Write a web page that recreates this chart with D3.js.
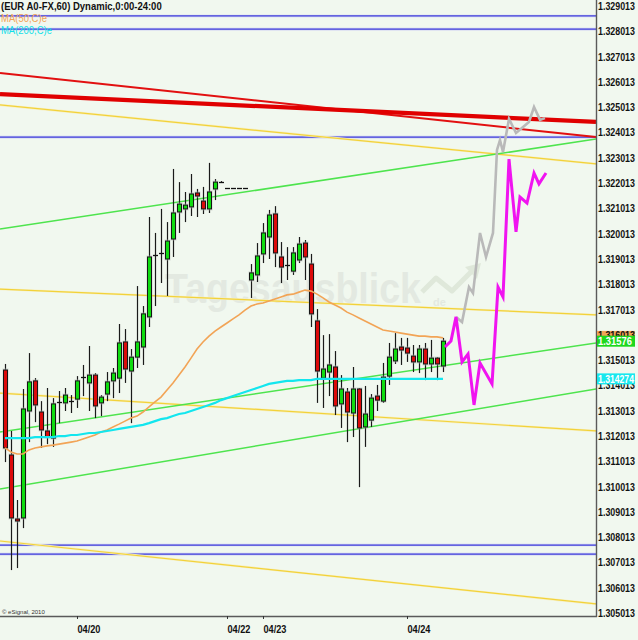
<!DOCTYPE html>
<html><head><meta charset="utf-8">
<script src="https://cdn.jsdelivr.net/npm/d3@7"></script>
<style>html,body{margin:0;padding:0;background:#f1f8ef;} svg{display:block}</style>
</head><body>
<svg id="c" width="638" height="640"></svg>
<script>
// ---------- DATA ----------
const opens = [1.31462,1.31126,1.30873,1.30877,1.31300,1.31419,1.31296,1.31221,1.31193,1.31336,
1.31332,1.31339,1.31347,1.31434,1.31411,1.31442,1.31332,1.31367,1.31419,1.31430,
1.31573,1.31458,1.31513,1.31553,1.31672,1.31917,1.31925,1.31901,1.31980,1.32087,
1.32099,1.32107,1.32162,1.32130,1.32099,1.32178,1.32205,1.32182,1.32182,1.32182,
1.32182,1.31818,1.31838,1.31921,1.31988,1.32079,1.31909,1.31877,1.31853,1.31897,
1.31964,1.31881,1.31656,1.31430,1.31454,1.31474,1.31328,1.31375,1.31292,1.31387,
1.31237,1.31264,1.31359,1.31339,1.31438,1.31498,1.31553,1.31549,1.31517,1.31494,
1.31545,1.31486,1.31509,1.31478];
const highs = [1.31486,1.31221,1.30948,1.31387,1.31529,1.31430,1.31339,1.31391,1.31351,1.31379,
1.31391,1.31363,1.31438,1.31482,1.31557,1.31450,1.31363,1.31454,1.31470,1.31644,
1.31624,1.31545,1.31794,1.31715,1.32067,1.32004,1.32099,1.32047,1.32257,1.32205,
1.32166,1.32237,1.32178,1.32186,1.32281,1.32217,1.32209,1.32182,1.32182,1.32182,
1.32182,1.31881,1.31964,1.32043,1.32095,1.32110,1.31968,1.31948,1.31948,1.31988,
1.31976,1.31921,1.31703,1.31600,1.31604,1.31537,1.31442,1.31391,1.31474,1.31391,
1.31399,1.31367,1.31403,1.31490,1.31569,1.31608,1.31589,1.31589,1.31561,1.31561,
1.31569,1.31581,1.31513,1.31589];
const lows = [1.31098,1.30671,1.30679,1.30837,1.31177,1.31256,1.31154,1.31169,1.31158,1.31252,
1.31300,1.31292,1.31312,1.31359,1.31300,1.31272,1.31280,1.31339,1.31351,1.31371,
1.31411,1.31252,1.31470,1.31482,1.31632,1.31715,1.31806,1.31755,1.31909,1.32004,
1.32047,1.32071,1.32067,1.32079,1.32083,1.32134,1.32202,1.32182,1.32182,1.32182,
1.32182,1.31747,1.31810,1.31885,1.31901,1.31869,1.31806,1.31818,1.31838,1.31885,
1.31818,1.31632,1.31332,1.31312,1.31359,1.31284,1.31233,1.31177,1.31197,1.30999,
1.31158,1.31237,1.31300,1.31332,1.31403,1.31486,1.31482,1.31494,1.31454,1.31450,
1.31422,1.31454,1.31422,1.31454];
const closes = [1.31154,1.30877,1.30865,1.31308,1.31415,1.31324,1.31225,1.31197,1.31328,1.31336,
1.31363,1.31339,1.31419,1.31434,1.31442,1.31320,1.31355,1.31415,1.31450,1.31569,
1.31466,1.31513,1.31573,1.31684,1.31909,1.31917,1.31925,1.31972,1.32083,1.32118,
1.32114,1.32158,1.32150,1.32099,1.32166,1.32205,1.32205,1.32182,1.32182,1.32182,
1.32182,1.31846,1.31913,1.32004,1.32075,1.31925,1.31869,1.31877,1.31925,1.31960,
1.31909,1.31684,1.31458,1.31466,1.31482,1.31320,1.31387,1.31296,1.31387,1.31233,
1.31288,1.31351,1.31343,1.31434,1.31513,1.31545,1.31541,1.31529,1.31494,1.31545,
1.31486,1.31509,1.31486,1.31576];
const ma50 = [1.31154,1.31138,1.31130,1.31130,1.31146,1.31154,1.31158,1.31162,1.31165,1.31169,
1.31173,1.31177,1.31181,1.31189,1.31197,1.31205,1.31217,1.31225,1.31237,1.31248,
1.31260,1.31272,1.31280,1.31296,1.31316,1.31336,1.31355,1.31383,1.31411,1.31442,
1.31474,1.31509,1.31545,1.31573,1.31596,1.31616,1.31632,1.31648,1.31664,1.31680,
1.31699,1.31715,1.31723,1.31727,1.31735,1.31743,1.31751,1.31759,1.31762,1.31770,
1.31778,1.31774,1.31762,1.31747,1.31731,1.31719,1.31707,1.31691,1.31680,1.31668,
1.31656,1.31644,1.31632,1.31620,1.31616,1.31612,1.31608,1.31604,1.31600,1.31596,
1.31596,1.31593,1.31593,1.31589];
const ma200 = [1.31193,1.31193,1.31193,1.31193,1.31193,1.31197,1.31197,1.31197,1.31197,1.31201,
1.31201,1.31205,1.31205,1.31209,1.31213,1.31213,1.31217,1.31221,1.31225,1.31229,
1.31233,1.31237,1.31241,1.31245,1.31252,1.31260,1.31268,1.31272,1.31280,1.31288,
1.31292,1.31300,1.31308,1.31316,1.31324,1.31332,1.31343,1.31351,1.31359,1.31367,
1.31375,1.31383,1.31391,1.31399,1.31407,1.31411,1.31415,1.31419,1.31419,1.31422,
1.31422,1.31422,1.31427,1.31427,1.31427,1.31427,1.31427,1.31427,1.31427,1.31427,
1.31427,1.31427,1.31427,1.31427,1.31427,1.31427,1.31427,1.31427,1.31427,1.31427,
1.31427,1.31427,1.31427,1.31427];

// forecast paths (bar index, price)
const magentaIdx   = [73.33,74.33,75.17,76.17,77.17,78.17,79.17,81.17,82.17,83.0,84.0,85.17,85.83,87.0,88.17,89.0,90.17];
const magentaPrice = [1.31553,1.31577,1.31672,1.31494,1.31525,1.31324,1.31490,1.31407,1.31790,1.31751,1.32296,1.32008,1.32146,1.32122,1.32241,1.32198,1.32241];
const grayIdx   = [75.17,76.17,77.33,78.0,79.17,80.17,81.33,82.0,82.5,83.0,84.0,85.17,87.33,88.17,89.17,90.0];
const grayPrice = [1.31672,1.31652,1.31790,1.31766,1.32004,1.31909,1.32004,1.32332,1.32371,1.32324,1.32455,1.32399,1.32443,1.32502,1.32451,1.32458];

// trend lines: price at left edge, price at right edge
const redThick = [1.32553, 1.32443];
const redThin  = [1.32636, 1.32383];
const greenLines  = [[1.32020,1.32375],[1.31217,1.31569],[1.30992,1.31387]];
const yellowLines = [[1.32510,1.32277],[1.31782,1.31680],[1.31371,1.31221],[1.30786,1.30537]];
const blueLevels  = [1.32862,1.32810,1.32383,1.30770,1.30734];

const priceTickValues = [1.329013,1.328013,1.327013,1.326013,1.325013,1.324013,1.323013,1.322013,1.321013,1.320013,1.319013,1.318013,1.317013,1.316013,1.315013,1.314013,1.313013,1.312013,1.311013,1.310013,1.309013,1.308013,1.307013,1.306013,1.305013];
const priceTickLabels = ["1.329013","1.328013","1.327013","1.326013","1.325013","1.324013","1.323013","1.322013","1.321013","1.320013","1.319013","1.318013","1.317013","1.316013","1.315013","1.314013","1.313013","1.312013","1.311013","1.310013","1.309013","1.308013","1.307013","1.306013","1.305013"];
const dateTickIndex  = [12,37,43,67];
const dateTickLabels = ["04/20","04/22","04/23","04/24"];
const lastPriceLabel = "1.31576";
const ma200Label = "1.314274";

// ---------- LAYOUT ----------
const W = 638, H = 640, PR = 596, PB = 616;
const svg = d3.select("#c");
const x = d3.scaleLinear().domain([-0.8333, 98.5]).range([0, PR]);
const y = d3.scaleLinear().domain([1.305013, 1.329013]).range([613, 6]);
const FONT = "'Liberation Sans',Arial,sans-serif";

// squeeze a text horizontally to a target width (like a condensed font)
function fit(node, target) {
  const t = d3.select(node);
  const len = node.getComputedTextLength();
  const s = Math.min(1, target / len);
  const tx = +t.attr("x") || 0, ty = +t.attr("y") || 0;
  t.attr("x", 0).attr("y", 0).attr("transform", `translate(${tx},${ty}) scale(${s},1)`);
}

svg.append("rect").attr("width", W).attr("height", H).attr("fill", "#f1f8ef");
svg.append("defs").append("clipPath").attr("id","plot")
  .append("rect").attr("x",0).attr("y",0).attr("width",PR).attr("height",PB);

// watermark
const wm = svg.append("g");
const wt = wm.append("text").attr("x",165).attr("y",303).text("Tagesausblick")
  .attr("font-family",FONT).attr("font-weight","bold")
  .attr("font-size",42).attr("fill","#e3e9e1");
fit(wt.node(), 256);
wm.append("text").attr("x",433).attr("y",306).text("de")
  .attr("font-family",FONT).attr("font-weight","bold")
  .attr("font-size",11).attr("fill","#e3e9e1");
wm.append("polyline").attr("points","422,292 436,278 452,291 472,271")
  .attr("fill","none").attr("stroke","#dfe8da").attr("stroke-width",5).attr("stroke-linejoin","round");
wm.append("polygon").attr("points","481,263 465,267 477,279").attr("fill","#dfe8da");

const plot = svg.append("g").attr("clip-path","url(#plot)");
const xL = x.domain()[0], xR = x.domain()[1];
const seg = (g, p, color, w) => g.append("line")
  .attr("x1", x(xL)).attr("x2", x(xR)).attr("y1", y(p[0])).attr("y2", y(p[1]))
  .attr("stroke", color).attr("stroke-width", w);

// blue levels
blueLevels.forEach(v => {
  plot.append("line").attr("x1",0).attr("x2",PR).attr("y1",y(v)).attr("y2",y(v))
    .attr("stroke","#cfcff4").attr("stroke-width",2.6);
  plot.append("line").attr("x1",0).attr("x2",PR).attr("y1",y(v)).attr("y2",y(v))
    .attr("stroke","#4040d8").attr("stroke-width",1.2);
});
yellowLines.forEach(p => { seg(plot,p,"#f6f0c4",2.4); seg(plot,p,"#f2d23a",1.2); });
greenLines.forEach(p => seg(plot,p,"#4ee44e",1.5));
seg(plot, redThin, "#e21010", 2);
seg(plot, redThick, "#e00000", 4.2);

// candles
const idx = d3.range(opens.length);
const cg = plot.append("g");
idx.forEach(i => {
  const cx = Math.round(x(i));
  const o = y(opens[i]), c = y(closes[i]), hi = y(highs[i]), lo = y(lows[i]);
  const top = Math.min(o,c), bot = Math.max(o,c);
  if (hi < lo - 0.5)
    cg.append("line").attr("x1",cx+0.5).attr("x2",cx+0.5).attr("y1",hi).attr("y2",lo)
      .attr("stroke","#1a1a1a").attr("stroke-width",1.2);
  if (bot - top < 1.2) {
    cg.append("line").attr("x1",cx-2).attr("x2",cx+3).attr("y1",Math.round(top)+0.5).attr("y2",Math.round(top)+0.5)
      .attr("stroke","#111").attr("stroke-width",1.3);
  } else {
    cg.append("rect").attr("x",cx-2.5).attr("y",top-1.5).attr("width",6).attr("height",bot-top+3)
      .attr("fill","#b8bcb8").attr("opacity",0.55);
    cg.append("rect").attr("x",cx-1.5).attr("y",top).attr("width",4).attr("height",bot-top)
      .attr("fill", closes[i] >= opens[i] ? "#10dc10" : "#dc0a0a")
      .attr("stroke","#151515").attr("stroke-width",1);
  }
});

// moving averages
const line = d3.line().x((d,i)=>x(i)).y(d=>y(d));
plot.append("path").attr("d", line(ma50)).attr("fill","none").attr("stroke","#f2a456").attr("stroke-width",1.6);
plot.append("path").attr("d", line(ma200)).attr("fill","none").attr("stroke","#12e6ee").attr("stroke-width",2.2);

// forecasts
const fl = d3.line().x(d=>x(d[0])).y(d=>y(d[1]));
plot.append("path").attr("d", fl(grayIdx.map((v,i)=>[v,grayPrice[i]])))
  .attr("fill","none").attr("stroke","#b9b9b9").attr("stroke-width",2.6);
plot.append("path").attr("d", fl(magentaIdx.map((v,i)=>[v,magentaPrice[i]])))
  .attr("fill","none").attr("stroke","#f014f0").attr("stroke-width",3);

// frame
svg.append("line").attr("x1",0).attr("x2",PR+1).attr("y1",PB+0.5).attr("y2",PB+0.5).attr("stroke","#5a5a5a").attr("stroke-width",1.4);
svg.append("line").attr("x1",PR+0.5).attr("x2",PR+0.5).attr("y1",0).attr("y2",PB+1).attr("stroke","#5a5a5a").attr("stroke-width",1.4);

// orange MA50 box sits under the price labels
const lastMa50 = ma50[ma50.length-1];
svg.append("rect").attr("x",597).attr("y",y(lastMa50)-7).attr("width",38).attr("height",11).attr("fill","#f2a456");

// right axis
const ay = svg.append("g").attr("transform",`translate(${PR},0)`)
  .call(d3.axisRight(y).tickValues(priceTickValues).tickFormat((d,i)=>priceTickLabels[i]).tickSize(0).tickPadding(2));
ay.select(".domain").remove();
ay.selectAll("text").attr("font-family",FONT).attr("font-size",11).attr("font-weight","bold")
  .attr("fill","#111").each(function(){ fit(this, 37); });

// bottom axis
const ax = svg.append("g").attr("transform",`translate(0,${PB})`)
  .call(d3.axisBottom(x).tickValues(dateTickIndex).tickFormat((d,i)=>dateTickLabels[i]).tickSize(3).tickPadding(6));
ax.select(".domain").remove();
ax.selectAll("line").attr("stroke","#333");
ax.selectAll("text").attr("text-anchor","start").attr("font-family",FONT).attr("font-size",11)
  .attr("font-weight","bold").attr("fill","#111").each(function(){ fit(this, 23); });

// value boxes
function valueBox(price, label, fill, len) {
  const cy = y(price);
  svg.append("rect").attr("x",597).attr("y",cy-5.5).attr("width",38).attr("height",11).attr("fill",fill);
  const t = svg.append("text").attr("x",598).attr("y",cy).attr("dy","0.36em").text(label)
    .attr("font-family",FONT).attr("font-size",11).attr("font-weight","bold").attr("fill","#fff");
  fit(t.node(), len);
}
valueBox(closes[closes.length-1], lastPriceLabel, "#1ed81e", 34);
valueBox(ma200[ma200.length-1], ma200Label, "#18e8ee", 36);

// title & legend
fit(svg.append("text").attr("x",1).attr("y",10).text("(EUR A0-FX,60) Dynamic,0:00-24:00")
  .attr("font-family",FONT).attr("font-size",11).attr("font-weight","bold").attr("fill","#111").node(), 161);
fit(svg.append("text").attr("x",1).attr("y",22).text("MA(50,C)e")
  .attr("font-family",FONT).attr("font-size",11).attr("fill","#f2a456").node(), 46);
fit(svg.append("text").attr("x",1).attr("y",34).text("MA(200,C)e")
  .attr("font-family",FONT).attr("font-size",11).attr("fill","#12e0e8").node(), 51);
svg.append("text").attr("x",2).attr("y",614).text("© eSignal, 2010")
  .attr("font-family",FONT).attr("font-size",6).attr("fill","#333");
</script>
</body></html>
